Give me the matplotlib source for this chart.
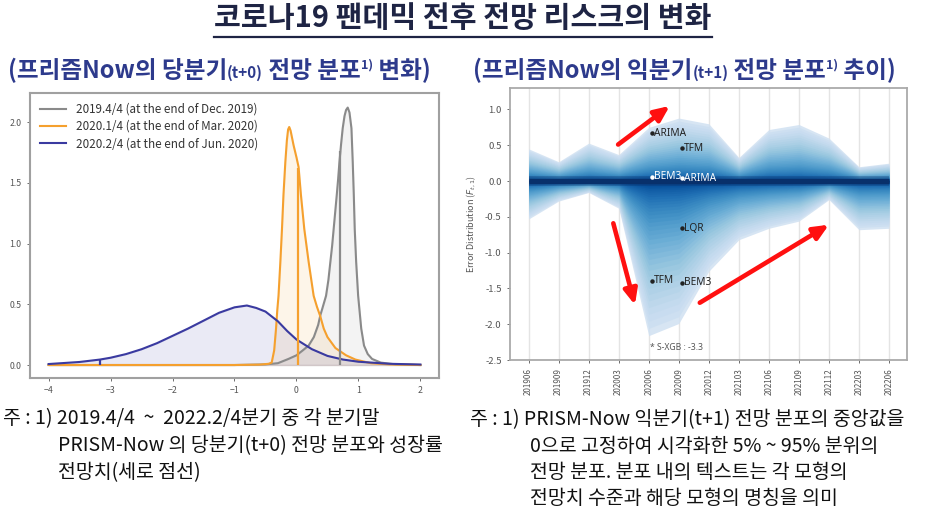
import matplotlib.pyplot as plt
import numpy as np
from matplotlib.lines import Line2D

plt.rcParams['font.family'] = ['Noto Sans CJK KR', 'DejaVu Sans']

# ---- left chart: current-quarter (t+0) forecast densities ----
gray_x = [-4.0, -1.0, -0.5, -0.3, -0.13, 0.0, 0.1, 0.196, 0.28, 0.35, 0.385, 0.42, 0.477,
          0.515, 0.547, 0.575, 0.60, 0.625, 0.65, 0.672, 0.693, 0.72, 0.746, 0.775, 0.80,
          0.827, 0.855, 0.887, 0.908, 0.925, 0.94, 0.963, 0.995, 1.045, 1.09, 1.15, 1.22,
          1.36, 1.6, 2.0]
gray_y = [0.0, 0.0, 0.005, 0.015, 0.05, 0.08, 0.12, 0.16, 0.23, 0.33, 0.41, 0.47, 0.57,
          0.70, 0.85, 0.98, 1.12, 1.26, 1.40, 1.53, 1.67, 1.82, 1.95, 2.05, 2.10,
          2.12, 2.08, 1.95, 1.67, 1.40, 1.12, 0.85, 0.57, 0.30, 0.16, 0.09, 0.05,
          0.02, 0.005, 0.0]

orange_x = [-4.0, -1.0, -0.6, -0.45, -0.40, -0.36, -0.33, -0.31, -0.29, -0.26, -0.234,
            -0.21, -0.18, -0.155, -0.135, -0.117, -0.095, -0.047, 0.0, 0.034, 0.072, 0.126,
            0.196, 0.277, 0.33, 0.385, 0.44, 0.5, 0.628, 0.8, 0.95, 1.2, 1.5, 2.0]
orange_y = [0.0, 0.0, 0.003, 0.01, 0.02, 0.12, 0.30, 0.45, 0.57, 0.85, 1.12,
            1.40, 1.67, 1.85, 1.94, 1.96, 1.93, 1.81, 1.71, 1.63, 1.40, 1.12,
            0.85, 0.57, 0.48, 0.40, 0.30, 0.23, 0.14, 0.08, 0.045, 0.015, 0.005, 0.0]

blue_x = [-4.0, -3.5, -3.17, -3.0, -2.75, -2.5, -2.25, -2.0, -1.75, -1.5, -1.25, -1.0,
          -0.8, -0.65, -0.5, -0.3, -0.15, 0.0, 0.25, 0.5, 0.75, 1.0, 1.5, 2.0]
blue_y = [0.008, 0.025, 0.045, 0.06, 0.09, 0.13, 0.18, 0.24, 0.30, 0.365, 0.43, 0.475,
          0.49, 0.47, 0.44, 0.36, 0.28, 0.21, 0.13, 0.075, 0.045, 0.027, 0.01, 0.004]

series_labels = ['2019.4/4 (at the end of Dec. 2019)',
                 '2020.1/4 (at the end of Mar. 2020)',
                 '2020.2/4 (at the end of Jun. 2020)']
point_x = [0.71, 0.03, -3.17]     # growth forecasts (vertical lines)
point_y = [1.76, 1.62, 0.045]

# ---- right chart: next-quarter (t+1) error fan ----
quarters = ['201906', '201909', '201912', '202003', '202006', '202009', '202012',
            '202103', '202106', '202109', '202112', '202203', '202206']
band_hi = [0.45, 0.27, 0.53, 0.37, 0.75, 0.88, 0.80, 0.33, 0.72, 0.79, 0.60, 0.20, 0.25]
band_lo = [-0.53, -0.28, -0.16, -0.38, -2.16, -1.99, -1.26, -0.82, -0.66, -0.56, -0.26,
           -0.68, -0.66]
median = [0.0] * 13

model_names = ['ARIMA', 'TFM', 'BEM3', 'ARIMA', 'LQR', 'TFM', 'BEM3']
model_x = [4.1, 5.1, 4.1, 5.1, 5.1, 4.1, 5.1]
model_y = [0.67, 0.46, 0.06, 0.04, -0.66, -1.39, -1.42]
model_col = ['#222222', '#222222', 'white', 'white', '#222222', '#222222', '#222222']
xgb_x, xgb_y = 4.05, -2.32

arrows = [((2.98, 0.51), (4.70, 1.05)),
          ((2.82, -0.59), (3.54, -1.73)),
          ((5.70, -1.70), (10.0, -0.61))]

W, H = 927, 520
fig = plt.figure(figsize=(W / 100, H / 100), dpi=100)
ax1 = fig.add_axes([30 / W, 1 - 378 / H, 409 / W, 285 / H])
ax2 = fig.add_axes([510 / W, 1 - 360 / H, 397 / W, 272 / H])

colors = ['#8a8a8a', '#f5a02e', '#3a3aa0']
for xs, ys, c, lab in zip([gray_x, orange_x, blue_x], [gray_y, orange_y, blue_y],
                          colors, series_labels):
    ax1.plot(xs, ys, color=c, lw=1.5, label=lab)
    ax1.fill_between(xs, 0, ys, color=c, alpha=0.1)
ax1.vlines(point_x, 0, point_y, colors=colors, lw=1.6)

ax1.set_xlim(-4.3, 2.3)
ax1.set_ylim(-0.107, 2.24)
ax1.set_xticks(range(-4, 3))
ax1.set_yticks([0, 0.5, 1.0, 1.5, 2.0])
ax1.set_yticklabels(['%.1f' % v for v in [0, 0.5, 1.0, 1.5, 2.0]])
ax1.tick_params(labelsize=6.3, colors='#555555', length=2.5, width=0.6)
for s in ax1.spines.values():
    s.set_color('#a0a0a0')
    s.set_linewidth(1.5)
leg = ax1.legend(loc='upper left', frameon=False, fontsize=8.4, handlelength=2.2,
                 labelspacing=0.35, borderaxespad=0.45, handletextpad=0.9)
for t in leg.get_texts():
    t.set_color('#333333')

# fan chart
x = np.arange(len(quarters))
hi = np.array(band_hi)
lo = np.array(band_lo)
n = 40
cmap = plt.get_cmap('Blues')
for k in range(n):
    f = (1 - k / n) ** 1.9
    ax2.fill_between(x, lo * f, hi * f, color=cmap(0.2 + 0.8 * k / (n - 1)),
                     alpha=0.85, lw=0, zorder=2)
ax2.plot(x, median, color='#08306b', lw=7, alpha=0.35, zorder=3, solid_capstyle='butt')
ax2.plot(x, median, color='#08306b', lw=3.8, zorder=3, solid_capstyle='butt')

for nm, mx, my, mc in zip(model_names, model_x, model_y, model_col):
    ax2.plot(mx, my, 'o', ms=2.2, color=mc, zorder=5)
    ax2.text(mx + 0.06, my, nm, fontsize=7.3, color=mc, va='center', zorder=5,
             family=['Noto Sans', 'DejaVu Sans'])
ax2.text(xgb_x, xgb_y, '* S-XGB : -3.3', fontsize=6.2, color='#555555', va='center',
         family=['Noto Sans', 'DejaVu Sans'], zorder=5)

for (x0, y0), (x1, y1) in arrows:
    ax2.annotate('', xy=(x1, y1), xytext=(x0, y0), zorder=6,
                 arrowprops=dict(arrowstyle='-|>,head_length=0.9,head_width=0.4',
                                 color='#ff1010', lw=3.3, shrinkA=0, shrinkB=0))

ax2.set_xlim(-0.62, 12.6)
ax2.set_ylim(-2.5, 1.3)
ax2.set_xticks(x)
ax2.set_xticklabels(quarters, rotation=90)
ax2.set_yticks(np.arange(-2.5, 1.01, 0.5))
ax2.set_yticklabels(['%.1f' % v for v in np.arange(-2.5, 1.01, 0.5)])
ax2.xaxis.grid(True, color='#e4e4e4', lw=1)
ax2.set_axisbelow(True)
ax2.tick_params(axis='y', labelsize=6.8, colors='#555555', length=2.5, width=0.6)
ax2.tick_params(axis='x', labelsize=5.8, colors='#555555', length=2.5, width=0.6)
ax2.set_ylabel('Error Distribution ($F_{t,1}$)', fontsize=6.5, color='#555555', labelpad=5)
for s in ax2.spines.values():
    s.set_color('#aaaaaa')
    s.set_linewidth(1.3)

# ---- texts ----
r = fig.canvas.get_renderer()


def rich(x0, y0, pieces, color):
    xx = x0
    for s, size, dy in pieces:
        t = fig.text(xx / W, 1 - (y0 + dy) / H, s, fontsize=size, fontweight='bold',
                     color=color, va='baseline')
        xx += t.get_window_extent(r).width


title = fig.text(463 / W, 1 - 18 / H, '코로나19 팬데믹 전후 전망 리스크의 변화', fontsize=21,
                 fontweight='bold', color='#1e2444', ha='center', va='center')
bb = title.get_window_extent(r)
fig.add_artist(Line2D([bb.x0 / W, bb.x1 / W], [1 - 37 / H, 1 - 37 / H],
                      color='#1e2444', lw=1.6))

sub_col = '#2d3a8c'
rich(8, 78, [('(프리즘Now의 당분기', 17, 0), ('(t+0)', 11, 0), (' 전망 분포', 17, 0),
             ('1)', 9, -9), (' 변화)', 17, 0)], sub_col)
rich(473, 78, [('(프리즘Now의 익분기', 17, 0), ('(t+1)', 11, 0), (' 전망 분포', 17, 0),
               ('1)', 9, -9), (' 추이)', 17, 0)], sub_col)

left_note = ['주 : 1) 2019.4/4  ~  2022.2/4분기 중 각 분기말',
             'PRISM-Now 의 당분기(t+0) 전망 분포와 성장률',
             '전망치(세로 점선)']
right_note = ['주 : 1) PRISM-Now 익분기(t+1) 전망 분포의 중앙값을',
              '0으로 고정하여 시각화한 5% ~ 95% 분위의',
              '전망 분포. 분포 내의 텍스트는 각 모형의',
              '전망치 수준과 해당 모형의 명칭을 의미']
for i, line in enumerate(left_note):
    fig.text((3 if i == 0 else 58) / W, 1 - (419 + 27 * i) / H, line, fontsize=14,
             color='#111111', va='center')
for i, line in enumerate(right_note):
    fig.text((470 if i == 0 else 530) / W, 1 - (420 + 26 * i) / H, line, fontsize=14,
             color='#111111', va='center')

fig.savefig('out.png', dpi=100)
